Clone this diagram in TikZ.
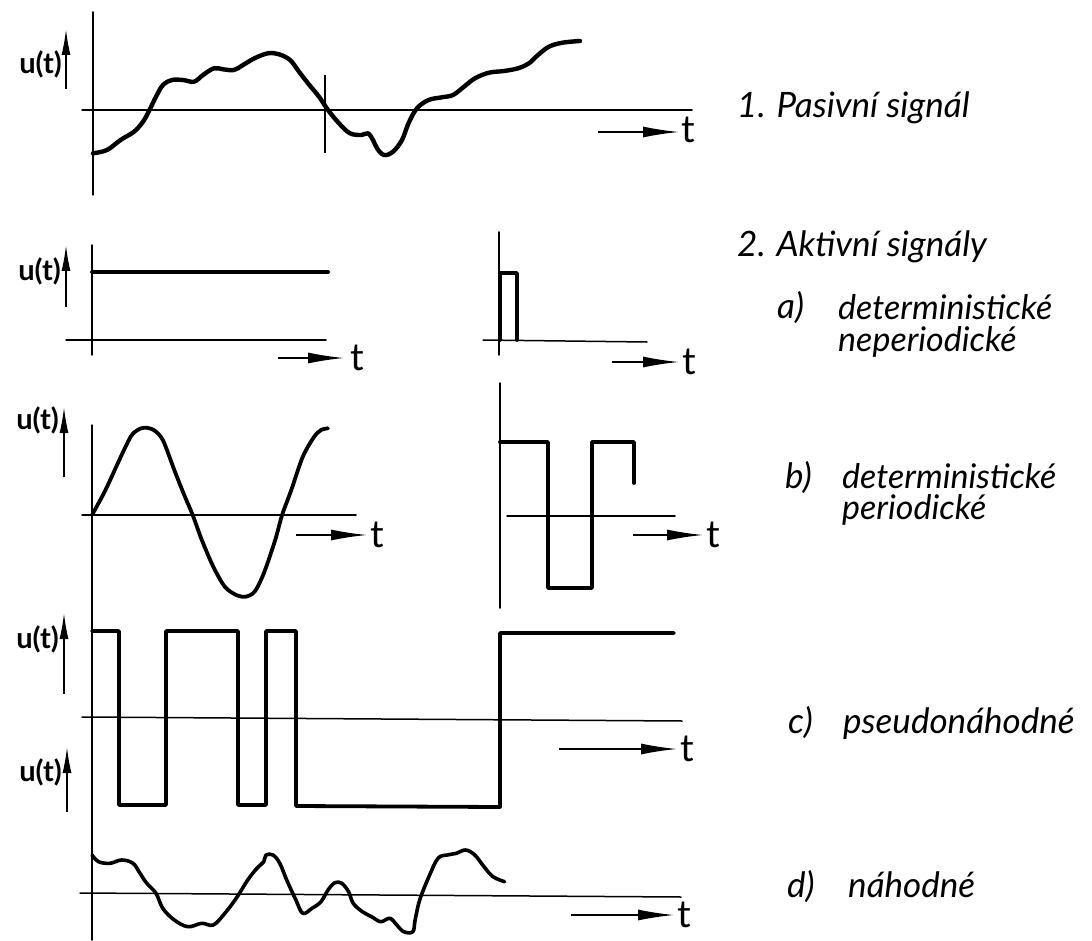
\documentclass[tikz,border=0pt]{standalone}
\usepackage{fontspec}
\newfontfamily\hand{Lato}
\usetikzlibrary{arrows.meta}
\tikzset{
  axis/.style={line width=1.5pt, line cap=round},
  sig/.style={line width=3.8pt, line join=round, line cap=round},
  uarrow/.style={line width=1.6pt, -{Latex[length=26pt,width=9pt]}},
  tarrow/.style={line width=1.6pt, -{Latex[length=36pt,width=11pt]}},
  ulab/.style={font=\hand\bfseries\fontsize{29}{29}\selectfont, anchor=east, inner sep=0pt},
  tlab/.style={font=\hand\fontsize{38}{38}\selectfont, anchor=base west, inner sep=0pt},
  rlab/.style={font=\hand\itshape\fontsize{35}{29}\selectfont, anchor=base west, inner sep=0pt, align=left},
}
\begin{document}
\begin{tikzpicture}[x=1pt,y=-1pt]
\useasboundingbox (0,0) rectangle (1092,941);

% ---------- Panel 1 ----------
\draw[axis] (93,12) -- (93,195);
\draw[axis] (82,110) -- (692,110);
\draw[line width=1.3pt] (325,75) -- (325,153);
\coordinate (u1s) at (66,89); \coordinate (u1e) at (66,29);
\draw[uarrow] (u1s) -- (u1e);
\node[ulab] (u1) at (62,64) {u(t)};
\coordinate (t1s) at (598,132); \coordinate (t1e) at (679,132);
\draw[tarrow] (t1s) -- (t1e);
\node[tlab] (t1) at (681,143) {t};
\draw[sig, line width=4.4pt] plot[smooth, tension=0.6] coordinates {
 (93,153.3) (107,150) (120.5,140) (134,131.7) (143,121.7) (149.5,110) (156,96.7) (163,85)
 (172,80) (183,80) (194,81.7) (203,75) (214,68.3) (223,69.3) (234,70) (243,65) (254.5,58.3)
 (268,53.3) (279,54.3) (290,60) (299,71.7) (308,83.3) (319,96.7) (328,110) (339,123.3)
 (350,133.3) (361.6,135) (368,133.3) (373,140) (377,148.3) (384,155) (393,151.7) (402,140)
 (408.5,123.3) (417,108.3) (428.6,100) (442,97.3) (453,95) (464,86.7) (475,78.3) (489,72.7)
 (504,71) (518,68.3) (529,63.3) (538,55) (549,46.7) (562.5,42.7) (580,41)};
\node[rlab] (l1) at (737,118) {1. Pasivní signál};

% ---------- Panel 2a ----------
\draw[axis] (92,245) -- (92,355);
\draw[axis] (66,340) -- (326,340);
\draw[sig] (92,272) -- (328,272);
\coordinate (u2s) at (66,307); \coordinate (u2e) at (66,245);
\draw[uarrow] (u2s) -- (u2e);
\node[ulab] (u2) at (61,271) {u(t)};
\coordinate (t2s) at (278,358); \coordinate (t2e) at (344,358);
\draw[tarrow] (t2s) -- (t2e);
\node[tlab] (t2) at (350,370) {t};

\draw[axis] (499,232) -- (499,355);
\draw[axis] (483,340) -- (647,342);
\draw[sig] (500,340) -- (500,273) -- (517,273) -- (517,340);
\coordinate (t3s) at (612,362); \coordinate (t3e) at (679,362);
\draw[tarrow] (t3s) -- (t3e);
\node[tlab] (t3) at (682,374) {t};

\node[rlab] (l2) at (737,257) {2. Aktivní signály};
\node[rlab] (l2a) at (777,319) {a)};
\node[rlab, font=\hand\itshape\fontsize{34}{32}\selectfont] (l2a1) at (838,351) {deterministické\\neperiodické};

% ---------- Panel 2b ----------
\draw[axis] (92,425) -- (92,940);
\draw[axis] (82,515) -- (356,515);
\draw[sig] plot[smooth, tension=0.5] coordinates {
 (92,515) (105.5,490) (119.3,460) (130.7,436.7) (137.6,430) (144.5,427.7) (153.7,430)
 (162.8,440) (174.3,470) (183.5,493.3) (192.7,515) (201.8,540) (213.3,566.7) (224.8,586.7)
 (236.2,595) (245.4,596.7) (254.6,591.7) (263.8,573.3) (275.2,540) (282.1,515) (291.3,490)
 (302.8,456.7) (314.2,436.7) (321.1,430) (328,428.3)};
\coordinate (u3s) at (64,477); \coordinate (u3e) at (64,407);
\draw[uarrow] (u3s) -- (u3e);
\node[ulab] (u3) at (59,420) {u(t)};
\coordinate (t4s) at (296,535); \coordinate (t4e) at (367,535);
\draw[tarrow] (t4s) -- (t4e);
\node[tlab] (t4) at (370,547) {t};

\draw[axis] (500,383) -- (500,608);
\draw[axis] (507,516) -- (675,516);
\draw[sig] (500,442) -- (548,442) -- (548,588) -- (592,588) -- (592,442) -- (634,442) -- (634,483);
\coordinate (t5s) at (633,535); \coordinate (t5e) at (703,535);
\draw[tarrow] (t5s) -- (t5e);
\node[tlab] (t5) at (706,547) {t};

\node[rlab] (l2b) at (785,488) {b)};
\node[rlab, font=\hand\itshape\fontsize{34}{31}\selectfont] (l2b1) at (842,519) {deterministické\\periodické};

% ---------- Panel 2c ----------
\draw[axis] (82,717) -- (682,721);
\draw[sig] (92,631) -- (119,631) -- (119,805) -- (166,805) -- (166,631) -- (238,631)
  -- (238,805) -- (266,805) -- (266,631) -- (296,631) -- (296,806) -- (500,807)
  -- (500,633) -- (674,633);
\coordinate (u4s) at (64,694); \coordinate (u4e) at (64,613);
\draw[uarrow] (u4s) -- (u4e);
\node[ulab] (u4) at (59,639) {u(t)};
\coordinate (u5s) at (67,812); \coordinate (u5e) at (67,747);
\draw[uarrow] (u5s) -- (u5e);
\node[ulab] (u5) at (62,772) {u(t)};
\coordinate (t6s) at (559,749); \coordinate (t6e) at (677,749);
\draw[tarrow] (t6s) -- (t6e);
\node[tlab] (t6) at (680,761) {t};

\node[rlab] (l2c) at (788,733) {c)};
\node[rlab] (l2c1) at (843,733) {pseudonáhodné};

% ---------- Panel 2d ----------
\draw[axis] (80,893) -- (681,897);
\draw[sig, line width=3.6pt] plot[smooth, tension=0.6] coordinates {
 (92,855) (98.6,861.7) (110,863.3) (121.6,860) (133,863.3) (140,873.3) (146.8,883.3)
 (156,893.3) (162.8,908.3) (174.3,920) (188,926.7) (201.8,923.3) (213.3,925) (224.8,913.3)
 (236.2,898.3) (247.7,880) (256.9,868.3) (263.8,861.7) (266,855) (273,855) (279.8,863.3)
 (286.7,880) (295.9,900) (302.8,913.3) (312,908.3) (321,901.7) (328,890) (334.9,882.7)
 (341.7,883.3) (348.6,891.7) (353.2,903.3) (362.4,911.7) (371.6,916.7) (380.7,921.7)
 (389.9,918.3) (396.8,925) (403.7,931.7) (412.8,931.7) (415.1,920) (419.7,900) (428.9,876.7)
 (438,858.3) (447.2,855) (456.4,853.3) (465.6,850) (474.8,855) (484,866.7) (493,876.7)
 (504.6,881.7)};
\coordinate (t7s) at (571,915); \coordinate (t7e) at (674,915);
\draw[tarrow] (t7s) -- (t7e);
\node[tlab] (t7) at (677,927) {t};

\node[rlab] (l2d) at (787,897) {d)};
\node[rlab] (l2d1) at (848,897) {náhodné};
\end{tikzpicture}
\end{document}
